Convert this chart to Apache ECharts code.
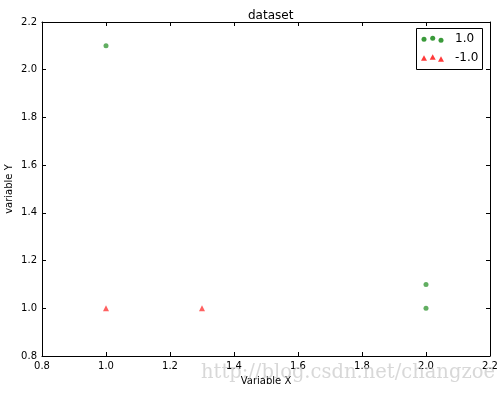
<!DOCTYPE html>
<html>
<head>
<meta charset="utf-8">
<script src="https://cdn.jsdelivr.net/npm/echarts@6/dist/echarts.min.js"></script>
<style>html,body{margin:0;padding:0;background:#fff}#c{width:503px;height:393px}</style>
</head>
<body>
<div id="c"></div>
<script>
var seriesNames = ['1.0', '-1.0'];
var positivePoints = [[1.0, 2.1], [2.0, 1.1], [2.0, 1.0]];
var negativePoints = [[1.0, 1.0], [1.3, 1.0]];
var xTicks = [0.8, 1.0, 1.2, 1.4, 1.6, 1.8, 2.0, 2.2];
var yTicks = [0.8, 1.0, 1.2, 1.4, 1.6, 1.8, 2.0, 2.2];

var GREEN = '#3a9a3a', RED = '#ff3a3a';
var font = 'DejaVu Sans';
var chart = echarts.init(document.getElementById('c'), null, {renderer: 'canvas'});

function axisBase(show) {
  return {
    min: xTicks[0], max: xTicks[xTicks.length - 1], interval: 0.2,
    axisLine: {show: true, onZero: false, lineStyle: {color: '#000', width: 1}},
    axisTick: {show: true, inside: true, length: 4, lineStyle: {color: '#000'}},
    splitLine: {show: false},
    axisLabel: {show: show, color: '#000', fontFamily: font, fontSize: 10,
      formatter: function (v) { return v.toFixed(1); }}
  };
}

var xb = Object.assign(axisBase(true), {type: 'value', position: 'bottom',
  name: 'Variable X', nameLocation: 'middle', nameGap: 20, nameMoveOverlap: false,
  nameTextStyle: {color: '#000', fontFamily: font, fontSize: 10}});
xb.axisLabel.margin = 5;
var xt = Object.assign(axisBase(false), {type: 'value', position: 'top'});
var yl = Object.assign(axisBase(true), {type: 'value', position: 'left',
  min: yTicks[0], max: yTicks[yTicks.length - 1],
  name: 'variable Y', nameLocation: 'middle', nameGap: 28, nameMoveOverlap: false,
  nameTextStyle: {color: '#000', fontFamily: font, fontSize: 10}});
yl.axisLabel.margin = 5;
var yr = Object.assign(axisBase(false), {type: 'value', position: 'right',
  min: yTicks[0], max: yTicks[yTicks.length - 1]});

var lx = 424, ly1 = 39.3, ly2 = 58.3;
chart.setOption({
  animation: false,
  title: {text: 'dataset', left: 243, top: 5,
    textStyle: {color: '#000', fontFamily: font, fontSize: 12, fontWeight: 'normal'}},
  grid: {left: 42, right: 13, top: 22, bottom: 37, containLabel: false, outerBoundsMode: 'none'},
  xAxis: [xb, xt],
  yAxis: [yl, yr],
  series: [
    {name: seriesNames[0], type: 'scatter', data: positivePoints, symbol: 'circle', symbolSize: 5,
      itemStyle: {color: GREEN}},
    {name: seriesNames[1], type: 'scatter', data: negativePoints, symbol: 'triangle', symbolSize: 6,
      itemStyle: {color: RED}}
  ],
  graphic: [
    {type: 'rect', shape: {x: 416.5, y: 28.5, width: 66, height: 41},
      style: {fill: '#fff', stroke: '#000', lineWidth: 1}, z: 10},
    {type: 'circle', shape: {cx: lx, cy: ly1, r: 2.5}, style: {fill: GREEN}, z: 11},
    {type: 'circle', shape: {cx: lx + 8.7, cy: ly1 - 1, r: 2.5}, style: {fill: GREEN}, z: 11},
    {type: 'circle', shape: {cx: lx + 17, cy: ly1 + 1, r: 2.5}, style: {fill: GREEN}, z: 11},
    {type: 'polygon', shape: {points: [[lx, ly2 - 3], [lx + 3, ly2 + 2.5], [lx - 3, ly2 + 2.5]]}, style: {fill: RED}, z: 11},
    {type: 'polygon', shape: {points: [[lx + 8.7, ly2 - 4], [lx + 11.7, ly2 + 1.5], [lx + 5.7, ly2 + 1.5]]}, style: {fill: RED}, z: 11},
    {type: 'polygon', shape: {points: [[lx + 17, ly2 - 2], [lx + 20, ly2 + 3.5], [lx + 14, ly2 + 3.5]]}, style: {fill: RED}, z: 11},
    {type: 'text', x: 455, y: 39, style: {text: seriesNames[0], fill: '#000', font: '12px DejaVu Sans', verticalAlign: 'middle'}, z: 11},
    {type: 'text', x: 455, y: 58, style: {text: seriesNames[1], fill: '#000', font: '12px DejaVu Sans', verticalAlign: 'middle'}, z: 11},
    {type: 'text', x: 201, y: 373, style: {text: 'http://blog.csdn.net/changzoe', fill: 'rgba(200,200,200,0.7)', font: '19.5px DejaVu Serif', verticalAlign: 'middle'}, z: 20}
  ]
});
</script>
</body>
</html>
